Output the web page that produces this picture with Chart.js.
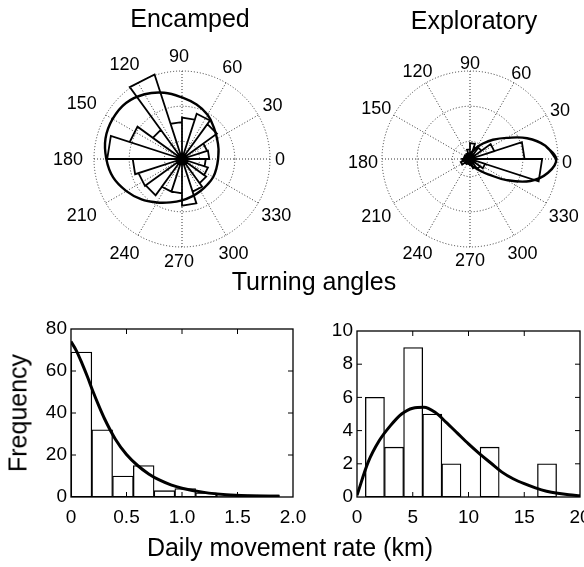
<!DOCTYPE html>
<html><head><meta charset="utf-8">
<script src="https://cdn.jsdelivr.net/npm/chart.js@4.4.1/dist/chart.umd.min.js"></script>
<style>
html,body{margin:0;padding:0;background:#fff;width:584px;height:567px;overflow:hidden;position:relative;}
canvas{position:absolute;}
.t{position:absolute;font-family:'Liberation Sans',Arial,Helvetica,sans-serif;font-size:25px;line-height:25px;white-space:nowrap;color:#000;z-index:5;}
</style></head><body>
<div class="t" style="left:190px;top:6px;transform:translateX(-50%)">Encamped</div>
<div class="t" style="left:474px;top:8px;transform:translateX(-50%)">Exploratory</div>
<div class="t" style="left:314px;top:269px;transform:translateX(-50%)">Turning angles</div>
<div class="t" style="left:18px;top:413px;transform:translate(-50%,-50%) rotate(-90deg)">Frequency</div>
<div class="t" style="left:290px;top:535px;transform:translateX(-50%)">Daily movement rate (km)</div>
<canvas id="cEnc" width="300" height="300" style="left:32px;top:9px"></canvas>
<canvas id="cExp" width="300" height="300" style="left:320px;top:9px"></canvas>
<canvas id="cRateEnc" width="330" height="240" style="left:0px;top:300px"></canvas>
<canvas id="cRateExp" width="284" height="240" style="left:300px;top:300px"></canvas>
<script>
// ---------- data ----------
const angleLabels = ['0','30','60','90','120','150','180','210','240','270','300','330'];
const ringValues = [2, 6, 10];          // dotted rings (outer ring = 10)
// rose histograms: 20 bins of 18 deg, starting at 0 deg, counter-clockwise
const encampedRose    = [3.1, 3.0, 4.9, 5.4, 4.7, 4.2, 10.1, 4.1, 6.25, 8.5, 5.6, 5.2, 5.1, 3.9, 3.9, 5.3, 3.9, 3.4, 3.1, 2.7];
const exploratoryRose = [6.2, 2.9, 1.6, 1.4, 1.8, 1.1, 0.7, 0.6, 0.7, 0.6, 0.9, 1.1, 0.7, 0.6, 0.6, 0.7, 1.1, 1.4, 1.8, 8.2];
// fitted circular distributions (angle in deg, radius)
const encampedFitAngles = [0,15,30,45,60,75,90,105,120,135,150,165,180,195,210,225,240,255,270,285,300,315,330,345];
const encampedFitR      = [4.1,4.3,4.6,5.1,5.8,6.4,7.0,7.8,8.5,9.0,9.1,9.0,8.6,8.1,7.3,6.5,5.7,5.1,4.7,4.4,4.2,4.1,4.1,4.05];
const exploratoryFitAngles = [0,10,20,30,40,50,60,75,90,120,150,180,210,240,270,285,300,310,320,330,340,350];
const exploratoryFitR      = [9.8,8.7,6.9,4.8,3.4,2.3,1.5,0.8,0.45,0.3,0.2,0.2,0.2,0.3,0.45,0.8,1.1,1.7,2.7,4.8,7.3,9.0];
// daily movement rate histograms
const encampedRateBins    = [0.094,0.281,0.468,0.655,0.842,1.029,1.216,1.403,1.590,1.777];
const encampedRateCounts  = [69, 32, 10, 15, 3, 4, 2, 1, 1, 1];
const encampedRateFitX    = [0,0.05,0.1,0.15,0.2,0.25,0.3,0.4,0.5,0.6,0.7,0.8,0.9,1.0,1.2,1.4,1.6,1.88];
const encampedRateFitY    = [74,69.5,63.5,57,50,43.5,37.5,27.5,20.2,15,11,8,5.8,4.2,2.2,1.1,0.6,0.3];
const exploratoryRateBins   = [1.607,3.322,5.037,6.752,8.467,10.182,11.897,13.612,15.327,17.042];
const exploratoryRateCounts = [6, 3, 9, 5, 2, 0, 3, 0, 0, 2];
const exploratoryRateFitX   = [0,1,2,3,4,5,6,7,8,9,10,11,12,13,14,15,16,17,18,19,20];
const exploratoryRateFitY   = [0.1,2.1,3.4,4.3,5.0,5.35,5.4,5.1,4.5,3.85,3.2,2.6,2.05,1.5,1.1,0.8,0.55,0.35,0.22,0.13,0.08];
const encXTicks = ['0','0.5','1.0','1.5','2.0'];
const encYTicks = ['0','20','40','60','80'];
const expXTicks = ['0','5','10','15','20'];
const expYTicks = ['0','2','4','6','8','10'];

// ---------- plugins ----------
const FONT = "'Liberation Sans', Arial, Helvetica, sans-serif";
const polarGrid = {
  id: 'polarGrid',
  beforeDatasetsDraw(chart, args, o) {
    const {ctx, scales: {x, y}} = chart;
    const cx = x.getPixelForValue(0), cy = y.getPixelForValue(0);
    const u = x.getPixelForValue(1) - cx;
    const rMax = Math.max(...ringValues);
    ctx.save();
    ctx.strokeStyle = '#333'; ctx.lineWidth = 1; ctx.setLineDash([1, 2]);
    ringValues.forEach(v => { ctx.beginPath(); ctx.arc(cx, cy, v * u, 0, Math.PI * 2); ctx.stroke(); });
    angleLabels.forEach(l => {
      const t = parseFloat(l) * Math.PI / 180;
      ctx.beginPath(); ctx.moveTo(cx, cy);
      ctx.lineTo(x.getPixelForValue(rMax * Math.cos(t)), y.getPixelForValue(rMax * Math.sin(t)));
      ctx.stroke();
    });
    ctx.restore();
  },
  afterDraw(chart, args, o) {
    const {ctx, scales: {x, y}} = chart;
    const cx = x.getPixelForValue(0), cy = y.getPixelForValue(0);
    ctx.save();
    ctx.font = o.fontSize + 'px ' + FONT;
    ctx.fillStyle = '#000'; ctx.textAlign = 'center'; ctx.textBaseline = 'middle';
    angleLabels.forEach(l => {
      const t = parseFloat(l) * Math.PI / 180, c = Math.cos(t), s = Math.sin(t);
      const w = ctx.measureText(l).width, h = 13;
      const r = o.labelRadius + w / 2 * Math.abs(c) + h / 2 * Math.abs(s);
      ctx.fillText(l, cx + r * c + o.shiftX, cy - r * s + o.shiftY + 1);
    });
    ctx.restore();
  }
};
const boxTicks = {
  id: 'boxTicks',
  afterDatasetsDraw(chart) {
    const {ctx, chartArea: a, scales: {x, y}} = chart;
    ctx.save();
    ctx.strokeStyle = '#000'; ctx.lineWidth = 1.3;
    ctx.strokeRect(a.left, a.top, a.right - a.left, a.bottom - a.top);
    const L = 5;
    ctx.lineWidth = 1;
    ctx.beginPath();
    x.ticks.forEach(t => {
      const px = x.getPixelForValue(t.value);
      if (px <= a.left + 1 || px >= a.right - 1) return;
      ctx.moveTo(px, a.bottom); ctx.lineTo(px, a.bottom - L);
      ctx.moveTo(px, a.top); ctx.lineTo(px, a.top + L);
    });
    y.ticks.forEach(t => {
      const py = y.getPixelForValue(t.value);
      if (py <= a.top + 1 || py >= a.bottom - 1) return;
      ctx.moveTo(a.left, py); ctx.lineTo(a.left + L, py);
      ctx.moveTo(a.right, py); ctx.lineTo(a.right - L, py);
    });
    ctx.stroke();
    ctx.restore();
  }
};

// ---------- polar rose charts ----------
function polarChart(id, rose, fitA, fitR, labelOpts) {
  const step = 360 / rose.length;
  const rosePts = [];
  rose.forEach((r, i) => {
    const a1 = i * step * Math.PI / 180, a2 = (i + 1) * step * Math.PI / 180;
    rosePts.push({x: 0, y: 0}, {x: r * Math.cos(a1), y: r * Math.sin(a1)}, {x: r * Math.cos(a2), y: r * Math.sin(a2)});
  });
  rosePts.push({x: 0, y: 0});
  const fitPts = fitA.map((a, i) => ({x: fitR[i] * Math.cos(a * Math.PI / 180), y: fitR[i] * Math.sin(a * Math.PI / 180)}));
  fitPts.push(fitPts[0], fitPts[1]);
  const L = 150 / 8.8;
  new Chart(document.getElementById(id), {
    type: 'scatter',
    data: {datasets: [
      {data: rosePts, showLine: true, borderColor: '#000', borderWidth: 1.8, pointRadius: 0, tension: 0, order: 2},
      {data: fitPts, showLine: true, borderColor: '#000', borderWidth: 2.4, pointRadius: 0, tension: 0.4, order: 1}
    ]},
    options: {
      responsive: false, animation: false, events: [],
      layout: {padding: 0},
      plugins: {legend: {display: false}, tooltip: {enabled: false}, polarGrid: labelOpts},
      scales: {
        x: {type: 'linear', display: false, min: -L, max: L},
        y: {type: 'linear', display: false, min: -L, max: L}
      }
    },
    plugins: [polarGrid]
  });
}
polarChart('cEnc', encampedRose, encampedFitAngles, encampedFitR, {labelRadius: 96, shiftX: -3, shiftY: 0, fontSize: 18});
polarChart('cExp', exploratoryRose, exploratoryFitAngles, exploratoryFitR, {labelRadius: 92, shiftX: 0, shiftY: 3, fontSize: 18});

// ---------- histograms ----------
function histChart(id, bins, counts, fx, fy, xT, yT, g) {
  const tickFont = {family: FONT, size: 19};
  new Chart(document.getElementById(id), {
    type: 'bar',
    data: {datasets: [
      {type: 'line', data: fx.map((x, i) => ({x, y: fy[i]})), borderColor: '#000', borderWidth: 3, pointRadius: 0,
       cubicInterpolationMode: 'monotone', order: 0},
      {type: 'bar', data: bins.map((x, i) => ({x, y: counts[i]})), backgroundColor: '#fff', borderColor: '#000',
       borderWidth: 1.3, barPercentage: 1, categoryPercentage: 1, borderSkipped: false, order: 1}
    ]},
    options: {
      responsive: false, animation: false, events: [],
      layout: {padding: g.padding},
      plugins: {legend: {display: false}, tooltip: {enabled: false}},
      scales: {
        x: {type: 'linear', offset: false, min: parseFloat(xT[0]), max: parseFloat(xT[xT.length - 1]),
            grid: {display: false, drawTicks: false}, border: {display: false},
            afterBuildTicks: s => { s.ticks = xT.map(v => ({value: parseFloat(v)})); },
            afterFit: s => { s.height = g.xAxisH; s.paddingLeft = 0; s.paddingRight = 0; },
            ticks: {callback: (v, i) => xT[i], font: tickFont, color: '#000', padding: 9, maxRotation: 0, autoSkip: false}},
        y: {type: 'linear', min: parseFloat(yT[0]), max: parseFloat(yT[yT.length - 1]),
            grid: {display: false, drawTicks: false}, border: {display: false},
            afterBuildTicks: s => { s.ticks = yT.map(v => ({value: parseFloat(v)})); },
            afterFit: s => { s.width = g.yAxisW; s.paddingTop = 0; s.paddingBottom = 0; },
            ticks: {callback: (v, i) => yT[i], font: tickFont, color: '#000', padding: 4, autoSkip: false}}
      }
    },
    plugins: [boxTicks]
  });
}
histChart('cRateEnc', encampedRateBins, encampedRateCounts, encampedRateFitX, encampedRateFitY, encXTicks, encYTicks,
  {padding: {left: 0, top: 29, right: 37, bottom: 0}, xAxisH: 43, yAxisW: 71});
histChart('cRateExp', exploratoryRateBins, exploratoryRateCounts, exploratoryRateFitX, exploratoryRateFitY, expXTicks, expYTicks,
  {padding: {left: 0, top: 31, right: 4, bottom: 0}, xAxisH: 43, yAxisW: 57});
</script>
</body></html>
